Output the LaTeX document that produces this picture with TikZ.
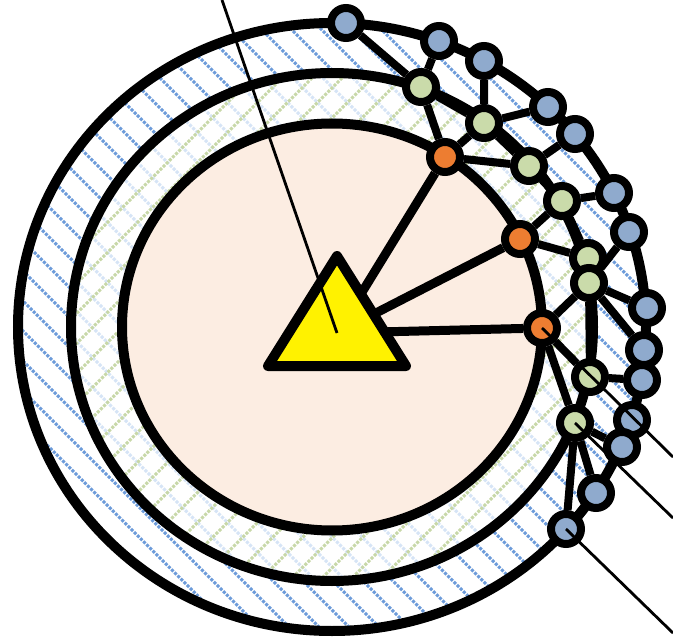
\documentclass[tikz,border=0pt]{standalone}
\definecolor{coreFill}{RGB}{252,237,226}
\definecolor{hatchBlue}{RGB}{108,155,218}
\definecolor{hatchLight}{RGB}{214,228,246}
\definecolor{hatchGreen}{RGB}{200,216,168}
\definecolor{nodeBlue}{RGB}{143,170,205}
\definecolor{nodeGreen}{RGB}{202,219,170}
\definecolor{nodeOrange}{RGB}{237,125,49}
\usepackage{tikz}
\usetikzlibrary{positioning,calc}
\tikzset{
    netNode/.style={circle,draw=black,line width=8pt,minimum size=30pt,inner sep=0pt},
    outerNode/.style={netNode,fill=nodeBlue},
    midNode/.style={netNode,fill=nodeGreen},
    coreNode/.style={netNode,fill=nodeOrange},
    link/.style={line width=8pt},
    spoke/.style={line width=9pt},
    ringLine/.style={line width=10pt},
    pointer/.style={line width=2.8pt},
    hatchLine/.style={line width=3pt,dash pattern=on 3pt off 1.4pt}
}
\begin{document}
\begin{tikzpicture}[x=1pt,y=-1pt]
                \useasboundingbox (0,0) rectangle (673,642);
                \begin{scope}
                    \clip (332,327) ellipse [x radius=314,y radius=304];
                    \fill[white] (0,0) rectangle (673,642);
                    \foreach \c in {-698,-668,...,682}
                        \draw[hatchLine,hatchBlue] (\c,0) -- ++(700,700);
                \end{scope}
                \begin{scope}
                    \clip (332,327) ellipse [x radius=261,y radius=254];
                    \fill[white] (0,0) rectangle (673,642);
                    \foreach \c in {-685,-655,...,695}
                        \draw[hatchLine,hatchLight] (\c,0) -- ++(700,700);
                    \foreach \c in {0,30,...,1350}
                        \draw[hatchLine,hatchGreen] (\c,0) -- ++(-700,700);
                \end{scope}
                \fill[coreFill] (332,327) ellipse [x radius=210,y radius=203.5];
                \draw[ringLine] (332,327) ellipse [x radius=314,y radius=304];
                \draw[ringLine] (332,327) ellipse [x radius=261,y radius=254];
                \draw[ringLine] (332,327) ellipse [x radius=210,y radius=203.5];

                \coordinate (hub) at (337,333);

                \node[outerNode] (b1) at (346,23) {};
                \node[outerNode] (b2) at (439,41) {};
                \node[outerNode] (b3) at (484,61) {};
                \node[outerNode] (b4) at (548,107) {};
                \node[outerNode] (b5) at (575,134) {};
                \node[outerNode] (b6) at (614,193) {};
                \node[outerNode] (b7) at (629,232) {};
                \node[outerNode] (b8) at (647,308) {};
                \node[outerNode] (b9) at (644,350) {};
                \node[outerNode] (b10) at (642,380) {};
                \node[outerNode] (b11) at (632,420) {};
                \node[outerNode] (b12) at (622,447) {};
                \node[outerNode] (b13) at (596,493) {};
                \node[outerNode] (b14) at (566,529) {};

                \node[midNode] (g1) at (421,87) {};
                \node[midNode] (g2) at (484,123) {};
                \node[midNode] (g3) at (529,166) {};
                \node[midNode] (g4) at (562,201) {};
                \node[midNode] (g5) at (588,258) {};
                \node[midNode] (g6) at (589,283) {};
                \node[midNode] (g7) at (590,377) {};
                \node[midNode] (g8) at (575,423) {};

                \node[coreNode] (o1) at (445,157) {};
                \node[coreNode] (o2) at (520,239) {};
                \node[coreNode] (o3) at (542,328) {};

                \draw[link] (b1) -- (g1) (b2) -- (g1) (g1) -- (g2) (b3) -- (g2) (g2) -- (b4)
                    (g1) -- (o1) (o1) -- (g2) (o1) -- (g3) (g2) -- (g3) (b5) -- (g3)
                    (g3) -- (g4) (g4) -- (b6) (o2) -- (g4) (o2) -- (g5) (g4) -- (g5)
                    (b7) -- (g6) (g6) -- (b8) (g6) -- (b9) (g6) -- (g7) (g6) -- (o3)
                    (o3) -- (g7) (o3) -- (g8) (g7) -- (b10) (g7) -- (g8) (g8) -- (b12)
                    (b12) -- (b13) (g8) -- (b13) (g8) -- (b14) (b13) -- (b14);

                \draw[spoke] (o1) -- (hub) (o2) -- (hub) (o3) -- (hub);
                \draw[line width=10pt,line join=round,fill=yellow] (337,256) -- (268,366) -- (406,366) -- cycle;

                \coordinate (tagA) at (222,0);
                \coordinate (tagB) at (673,457);
                \coordinate (tagC) at (673,518);
                \coordinate (tagD) at (673,633);
                \draw[pointer] (hub) -- (tagA);
                \draw[pointer] (o3.center) -- (tagB);
                \draw[pointer] (g8.center) -- (tagC);
                \draw[pointer] (b14.center) -- (tagD);
            \end{tikzpicture}
\end{document}
